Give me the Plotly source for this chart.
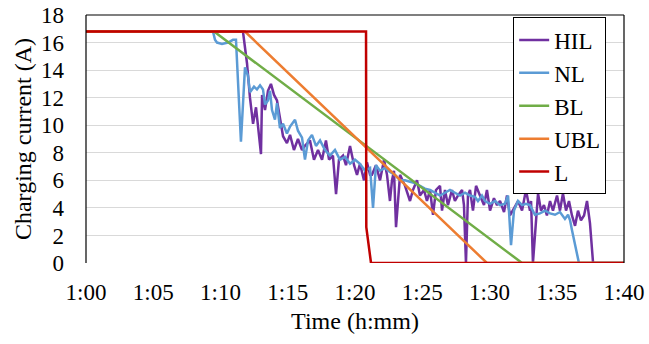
import plotly.graph_objects as go

# Time in minutes after 1:00, current in A
tick_vals = [0, 5, 10, 15, 20, 25, 30, 35, 40]
tick_labels = ["1:00", "1:05", "1:10", "1:15", "1:20", "1:25", "1:30", "1:35", "1:40"]

hil_t = [0, 11.67, 11.97, 12.19, 12.42, 12.64, 13.01, 13.09, 13.31, 13.53, 13.75, 13.98, 14.20,
         14.42, 14.65, 14.94, 15.17, 15.46, 15.76, 16.06, 16.28, 16.65, 16.95, 17.25, 17.55, 17.84,
         18.07, 18.36, 18.59, 18.81, 19.11, 19.33, 19.63, 19.93, 20.15, 20.37, 20.67, 20.89, 21.12,
         21.26, 21.56, 21.86, 22.16, 22.38, 22.60, 22.75, 22.90, 23.05, 23.35, 23.72, 24.09, 24.31,
         24.61, 24.83, 25.13, 25.35, 25.58, 25.80, 26.02, 26.32, 26.47, 26.69, 26.91, 27.21, 27.43,
         27.66, 27.96, 28.10, 28.25, 28.40, 28.55, 28.77, 29.00, 29.29, 29.59, 29.81, 30.04, 30.33,
         30.56, 30.78, 31.08, 31.30, 31.52, 31.82, 32.12, 32.42, 32.71, 33.01, 33.09, 33.23, 33.53,
         33.61, 33.83, 34.05, 34.27, 34.50, 34.72, 35.02, 35.24, 35.46, 35.69, 35.91, 36.13, 36.36,
         36.58, 36.80, 37.03, 37.25, 37.47, 37.70, 40]
hil_a = [16.8, 16.8, 14.5, 12.0, 10.1, 11.3, 7.9, 12.2, 11.1, 12.5, 13.0, 12.2, 11.8,
         10.4, 9.2, 8.7, 9.3, 8.2, 9.0, 8.2, 8.5, 8.9, 7.5, 8.2, 7.5, 8.9,
         7.5, 7.8, 5.0, 7.5, 7.8, 7.1, 8.5, 7.1, 6.4, 7.2, 6.0, 7.3, 6.4,
         6.4, 7.1, 6.0, 7.5, 6.4, 4.5, 6.0, 6.7, 2.6, 6.4, 5.6, 4.5, 5.3,
         6.0, 4.9, 5.3, 4.5, 5.3, 3.5, 5.3, 5.6, 3.8, 5.3, 4.2, 5.3, 4.5,
         4.9, 5.3, 4.2, 0.0, 4.9, 5.3, 3.8, 5.6, 4.9, 4.2, 5.3, 3.8, 4.7,
         4.2, 4.5, 3.7, 4.9, 3.45, 3.96, 4.5, 3.8, 5.3, 3.8, 4.5, 0.0, 4.5,
         5.05, 3.8, 4.2, 3.45, 4.5, 3.8, 4.9, 3.8, 5.05, 3.8, 4.5, 3.45, 2.7,
         3.8, 3.1, 3.45, 4.5, 2.9, 0.0, 0.0]

nl_t = [0, 9.44, 9.59, 9.74, 10.11, 10.56, 10.93, 11.15, 11.52, 11.82, 12.04, 12.19, 12.49,
        12.71, 12.94, 13.16, 13.31, 13.53, 13.68, 13.83, 14.05, 14.20, 14.42, 14.65, 14.94, 15.17,
        15.54, 15.76, 16.06, 16.28, 16.51, 16.80, 17.10, 17.40, 17.77, 18.14, 18.51, 18.88, 19.26,
        19.63, 20.00, 20.37, 20.74, 21.12, 21.34, 21.56, 21.86, 22.23, 22.60, 22.97, 23.35, 23.72,
        24.09, 24.46, 24.83, 25.20, 25.58, 25.95, 26.32, 26.69, 27.06, 27.43, 27.81, 28.18, 28.55,
        28.92, 29.14, 29.44, 29.67, 30.04, 30.41, 30.78, 31.15, 31.38, 31.60, 31.82, 32.12, 32.42,
        32.71, 33.01, 33.38, 33.75, 34.13, 34.50, 34.87, 35.24, 35.61, 35.84, 35.99, 36.13, 36.36,
        36.65, 40]
nl_a = [16.8, 16.8, 16.2, 16.0, 15.9, 16.0, 16.2, 16.2, 8.8, 14.2, 13.6, 12.4, 12.8,
        12.6, 12.9, 12.6, 11.5, 11.8, 12.5, 11.1, 10.4, 11.6, 9.8, 10.1, 9.4, 9.9,
        10.4, 9.6, 9.1, 7.5, 8.9, 9.3, 8.5, 8.9, 8.2, 7.8, 8.2, 7.5, 7.7,
        7.2, 7.5, 7.2, 6.7, 6.9, 4.0, 7.1, 6.7, 6.9, 6.6, 6.4, 6.0, 6.0,
        5.9, 5.8, 5.6, 5.4, 5.3, 5.1, 4.9, 5.1, 5.3, 5.1, 4.9, 5.1, 4.9,
        4.8, 4.5, 4.9, 4.5, 4.3, 4.5, 4.2, 4.3, 4.9, 1.3, 3.8, 4.5, 4.2,
        4.3, 4.2, 3.5, 3.6, 3.8, 3.6, 3.5, 3.7, 3.2, 3.5, 3.1, 2.4, 1.3,
        0.0, 0.0]

bl_t = [0, 9.52, 32.42, 40]
bl_a = [16.8, 16.8, 0.0, 0.0]

ubl_t = [0, 11.82, 29.81, 40]
ubl_a = [16.8, 16.8, 0.0, 0.0]

l_t = [0, 20.82, 20.84, 21.19, 40]
l_a = [16.8, 16.8, 2.6, 0.0, 0.0]

series = [
    ("HIL", hil_t, hil_a, "#7030A0"),
    ("NL", nl_t, nl_a, "#5B9BD5"),
    ("BL", bl_t, bl_a, "#70AD47"),
    ("UBL", ubl_t, ubl_a, "#ED7D31"),
    ("L", l_t, l_a, "#C00000"),
]

fig = go.Figure()
for name, t, a, c in series:
    fig.add_trace(go.Scatter(x=t, y=a, mode="lines", name=name,
                             line=dict(color=c, width=2.5)))

font = "Liberation Serif, Times New Roman, serif"
fig.update_layout(
    width=649, height=344,
    margin=dict(l=86, r=25, t=15, b=81),
    paper_bgcolor="white", plot_bgcolor="white",
    font=dict(family=font, size=23, color="black"),
    showlegend=True,
    legend=dict(x=0.794, y=0.99, xanchor="left", yanchor="top",
                bgcolor="white", bordercolor="black", borderwidth=1,
                font=dict(family=font, size=23, color="black"), itemwidth=30),
    xaxis=dict(range=[0, 40], tickvals=tick_vals, ticktext=tick_labels,
               showgrid=False, zeroline=False, showline=False, ticks="",
               automargin=False, ticklabelstandoff=13,
               tickfont=dict(family=font, size=23),
               title=dict(text="Time (h:mm)", font=dict(family=font, size=24), standoff=8)),
    yaxis=dict(range=[0, 18], dtick=2, showgrid=True, gridcolor="#D9D9D9",
               gridwidth=1.2, zeroline=False, showline=False, ticks="",
               automargin=False, ticklabelstandoff=21,
               tickfont=dict(family=font, size=23),
               title=dict(text="Charging current (A)", font=dict(family=font, size=24), standoff=2)),
)
for (x0, y0, x1, y1) in [(0, 0, 0, 1), (0, 1, 1, 1), (1, 0, 1, 1)]:
    fig.add_shape(type="line", xref="paper", yref="paper", x0=x0, y0=y0, x1=x1, y1=y1,
                  line=dict(color="black", width=1.2), layer="above")

fig.write_html("out.html", post_script="document.body.style.margin='0';",
               config={"displayModeBar": False})
